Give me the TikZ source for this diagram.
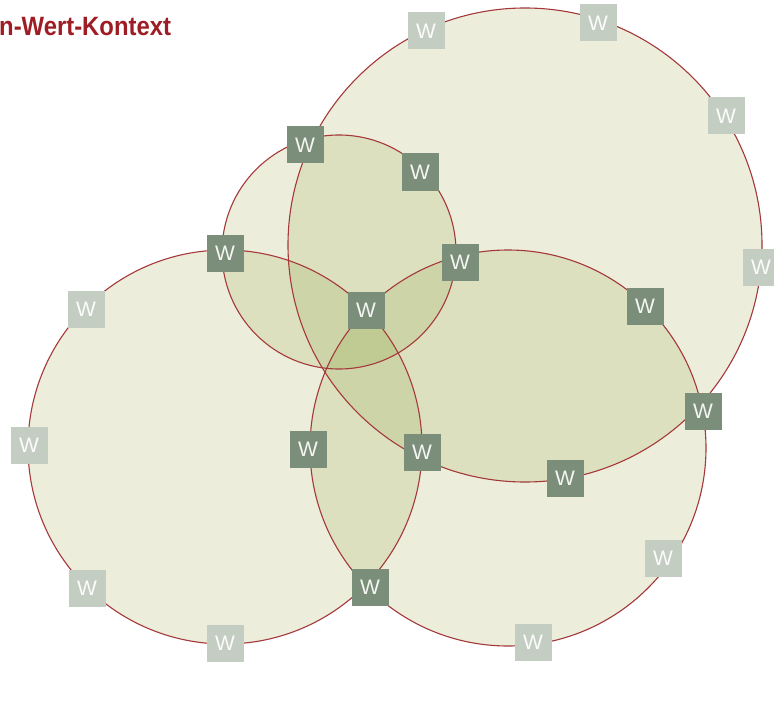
\documentclass[tikz,border=0pt]{standalone}
\usepackage{fontspec}
\newfontfamily\wfont{Liberation Sans}
\newfontfamily\tfont[FakeStretch=0.9]{Liberation Sans}
\definecolor{lvA}{HTML}{ECEEDB}
\definecolor{lvB}{HTML}{DCE0BE}
\definecolor{lvC}{HTML}{CDD5A8}
\definecolor{lvD}{HTML}{BFCB92}
\definecolor{rim}{HTML}{A5383B}
\definecolor{wdark}{HTML}{7B8E79}
\definecolor{wlight}{HTML}{C4CDC1}
\definecolor{titlered}{HTML}{9E1C24}
\tikzset{
  rimline/.style={draw=rim, line width=1.1pt},
  wbox/.style={rectangle, minimum size=37pt, inner sep=0pt, font=\wfont\fontsize{21}{21}\selectfont},
  wdarkbox/.style={wbox, fill=wdark, text=white!92!wdark},
  wlightbox/.style={wbox, fill=wlight, text=white!95!wlight},
}
\def\cirA{(525,245) circle[radius=237pt]}
\def\cirB{(225,447) circle[radius=197pt]}
\def\cirC{(339,252) circle[radius=117pt]}
\def\cirD{(508,448) circle[radius=198pt]}
\begin{document}
\begin{tikzpicture}[x=1pt,y=-1pt]
\useasboundingbox (0,0) rectangle (774,706);
% level 1
\fill[lvA] \cirA; \fill[lvA] \cirB; \fill[lvA] \cirC; \fill[lvA] \cirD;
% level 2
\begin{scope}\clip \cirA; \fill[lvB] \cirB; \fill[lvB] \cirC; \fill[lvB] \cirD; \end{scope}
\begin{scope}\clip \cirB; \fill[lvB] \cirC; \fill[lvB] \cirD; \end{scope}
\begin{scope}\clip \cirC; \fill[lvB] \cirD; \end{scope}
% level 3
\begin{scope}\clip \cirA; \clip \cirB; \fill[lvC] \cirC; \fill[lvC] \cirD; \end{scope}
\begin{scope}\clip \cirA; \clip \cirC; \fill[lvC] \cirD; \end{scope}
\begin{scope}\clip \cirB; \clip \cirC; \fill[lvC] \cirD; \end{scope}
% level 4
\begin{scope}\clip \cirA; \clip \cirB; \clip \cirC; \fill[lvD] \cirD; \end{scope}
% outlines
\draw[rimline] \cirA; \draw[rimline] \cirB; \draw[rimline] \cirC; \draw[rimline] \cirD;
% title
\node[anchor=base west, inner sep=0pt, text=titlered, font=\tfont\bfseries\fontsize{26.5}{26.5}\selectfont] (title) at (-1,36) {n-Wert-Kontext};
% light W boxes
\node[wlightbox] (l1) at (426,31) {W};
\node[wlightbox] (l2) at (598,23) {W};
\node[wlightbox] (l3) at (726,116) {W};
\node[wlightbox] (l4) at (761,267) {W};
\node[wlightbox] (l5) at (86,309) {W};
\node[wlightbox] (l6) at (29,445) {W};
\node[wlightbox] (l7) at (87,588) {W};
\node[wlightbox] (l8) at (225,643) {W};
\node[wlightbox] (l9) at (533,642) {W};
\node[wlightbox] (l10) at (663,558) {W};
% dark W boxes
\node[wdarkbox] (d1) at (305,145) {W};
\node[wdarkbox] (d2) at (420,172) {W};
\node[wdarkbox] (d3) at (225,253) {W};
\node[wdarkbox] (d4) at (460,262) {W};
\node[wdarkbox] (d5) at (366,310) {W};
\node[wdarkbox] (d6) at (645,306) {W};
\node[wdarkbox] (d7) at (703,411) {W};
\node[wdarkbox] (d8) at (308,449) {W};
\node[wdarkbox] (d9) at (422,452) {W};
\node[wdarkbox] (d10) at (565,478) {W};
\node[wdarkbox] (d11) at (370,587) {W};
\end{tikzpicture}
\end{document}
